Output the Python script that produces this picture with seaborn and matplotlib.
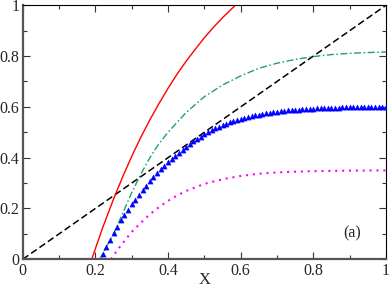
import numpy as np
import matplotlib
matplotlib.use("Agg")
import matplotlib.pyplot as plt
from matplotlib.ticker import MultipleLocator, FuncFormatter
import seaborn as sns

# values
diag_x = [0.0, 1.0]
diag_y = [0.0, 1.0]

red_x = [0.19, 0.22, 0.25, 0.275, 0.30, 0.325, 0.35, 0.375, 0.40, 0.425,
         0.45, 0.475, 0.50, 0.525, 0.55, 0.575, 0.60]
red_y = [0.0, 0.124, 0.237, 0.324, 0.405, 0.48, 0.549, 0.613, 0.673, 0.729,
         0.78, 0.827, 0.872, 0.913, 0.951, 0.986, 1.019]

green_x = [0.212, 0.25, 0.275, 0.30, 0.325, 0.35, 0.375, 0.40, 0.45, 0.50,
           0.55, 0.60, 0.65, 0.70, 0.75, 0.80, 0.85, 0.90, 0.95, 1.0]
green_y = [0.0, 0.10, 0.18, 0.262, 0.335, 0.40, 0.455, 0.50, 0.578, 0.640,
           0.686, 0.722, 0.752, 0.772, 0.787, 0.798, 0.806, 0.811, 0.814, 0.816]

blue_x = np.round(np.arange(0.22, 1.001, 0.01), 2)
blue_y = [0.020, 0.048, 0.076, 0.103, 0.129, 0.153, 0.175, 0.196, 0.216, 0.235,
          0.254, 0.272, 0.290, 0.307, 0.323, 0.339, 0.354, 0.368, 0.382, 0.395,
          0.408, 0.420, 0.432, 0.443, 0.454, 0.464, 0.474, 0.483, 0.492, 0.500,
          0.508, 0.515, 0.522, 0.528, 0.534, 0.539, 0.544, 0.549, 0.553, 0.557,
          0.561, 0.564, 0.567, 0.570, 0.573, 0.575, 0.577, 0.579, 0.581, 0.583,
          0.584, 0.586, 0.587, 0.588, 0.589, 0.590, 0.591, 0.592, 0.593, 0.594,
          0.594, 0.595, 0.596, 0.596, 0.597, 0.597, 0.598, 0.598, 0.598, 0.599,
          0.599, 0.599, 0.600, 0.600, 0.600, 0.600, 0.601, 0.601, 0.601]

mag_x = [0.243, 0.25, 0.27, 0.30, 0.33, 0.35, 0.375, 0.40, 0.425, 0.45,
         0.50, 0.55, 0.60, 0.65, 0.70, 0.75, 0.80, 0.90, 1.0]
mag_y = [0.0, 0.015, 0.054, 0.108, 0.150, 0.177, 0.205, 0.230, 0.251, 0.269,
         0.297, 0.315, 0.328, 0.337, 0.342, 0.345, 0.347, 0.349, 0.350]

sns.set_style("ticks")
plt.rcParams['font.family'] = ['Liberation Serif', 'DejaVu Serif']

fig = plt.figure(figsize=(3.9, 2.89), dpi=100)
ax = fig.add_axes([0.0582, 0.1028, 0.9315, 0.8789])

sns.lineplot(x=diag_x, y=diag_y, ax=ax, color='black', lw=1.1,
             linestyle=(0, (4.5, 2.2)), sort=False, estimator=None)
sns.lineplot(x=red_x, y=red_y, ax=ax, color='#ff0000', lw=1.0,
             sort=False, estimator=None)
sns.lineplot(x=green_x, y=green_y, ax=ax, color='#1fa363', lw=1.0,
             linestyle=(0, (5, 1.8, 1.2, 1.8)), sort=False, estimator=None)
sns.scatterplot(x=blue_x, y=blue_y, ax=ax, color='#0000ff', marker='^',
                s=14, linewidth=0.3, edgecolor='#0000ff', zorder=3)
sns.lineplot(x=mag_x, y=mag_y, ax=ax, color='#ff00ff', lw=1.5,
             linestyle=(0, (1, 2.3)), sort=False, estimator=None)

ax.set_xlim(0, 1)
ax.set_ylim(0, 1)
ax.xaxis.set_major_locator(MultipleLocator(0.2))
ax.xaxis.set_minor_locator(MultipleLocator(0.1))
ax.yaxis.set_major_locator(MultipleLocator(0.2))
ax.yaxis.set_minor_locator(MultipleLocator(0.1))
fmt = FuncFormatter(lambda v, p: f"{v:g}")
ax.xaxis.set_major_formatter(fmt)
ax.yaxis.set_major_formatter(fmt)

ax.tick_params(which='both', direction='in', top=True, right=True,
               labelsize=11.5, color='#333333', width=0.8)
ax.tick_params(which='major', length=5, pad=2.5)
ax.tick_params(which='minor', length=3)

for s in ['left', 'bottom']:
    ax.spines[s].set_linewidth(1.6)
    ax.spines[s].set_color('#555555')
for s in ['top', 'right']:
    ax.spines[s].set_linewidth(0.8)
    ax.spines[s].set_color('black')

ax.set_xlabel("X", fontsize=12, labelpad=-5)
ax.set_ylabel("")
ax.text(0.906, 0.10, "(a)", fontsize=11.5, ha='center', va='center')

plt.savefig("out.png", dpi=100)
